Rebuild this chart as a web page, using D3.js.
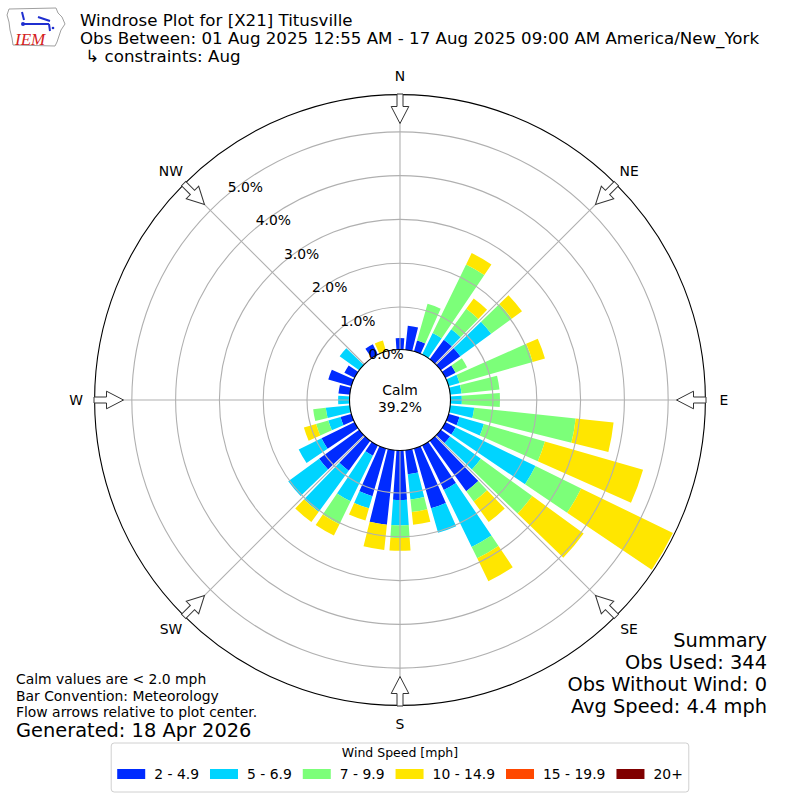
<!DOCTYPE html>
<html>
<head>
<meta charset="utf-8">
<script src="https://cdn.jsdelivr.net/npm/d3@7/dist/d3.min.js"></script>
<style>
  body { margin: 0; background: #fff; }
  svg text { font-family: "DejaVu Sans", sans-serif; fill: #000; }
</style>
</head>
<body>
<svg id="chart" width="800" height="800"></svg>
<script>
// direction bins, degrees the wind blows from
var directions = [0,10,20,30,40,50,60,70,80,90,100,110,120,130,140,150,160,170,
                  180,190,200,210,220,230,240,250,260,270,280,290,300,310,320,330,340,350];

var speedBins = ["2 - 4.9", "5 - 6.9", "7 - 9.9", "10 - 14.9", "15 - 19.9", "20+"];
var binColours = ["#002bff", "#00d4ff", "#7cff79", "#ffe600", "#ff4800", "#800000"];

// percent of all obs, per direction, one list per speed bin
var spd2to5 = [0.29,0.58,0.29,0,0.58,0.58,0.29,0,0,0,0,0.29,0.29,0.29,1.45,1.16,1.45,0.58,
               1.16,1.74,1.16,0.29,0.87,1.16,0.87,0.29,0,0,0.29,0.58,0.29,0,0,0.29,0,0];
var spd5to7 = [0,0,0,0.58,0.29,0.87,0,0.29,0.29,0.29,0.58,0.58,2.03,0.87,0,1.45,0.58,0.58,
               0.58,0,0.29,1.16,1.16,0.87,0.58,0.29,0.58,0.29,0,0,0,0.58,0,0,0,0];
var spd7to10 = [0,0,0.87,1.74,0.58,0.58,0.29,1.74,0.87,0.87,2.33,1.45,1.16,1.45,0.29,0.29,0,0.29,
                0.29,0,0,0.58,0,0,0,0.29,0.29,0,0,0,0,0,0,0,0,0];
var spd10to15 = [0,0,0,0.29,0.29,0.29,0,0.29,0,0,0.87,2.33,2.33,1.45,0.58,0.58,0,0.29,
                 0.29,0.58,0.29,0.29,0.29,0,0,0.29,0,0,0,0,0,0,0,0,0.29,0];
var spd15to20 = [0,0,0,0,0,0,0,0,0,0,0,0,0,0,0,0,0,0,0,0,0,0,0,0,0,0,0,0,0,0,0,0,0,0,0,0];
var spd20up = [0,0,0,0,0,0,0,0,0,0,0,0,0,0,0,0,0,0,0,0,0,0,0,0,0,0,0,0,0,0,0,0,0,0,0,0];

var rTicks = [0, 1, 2, 3, 4, 5];
var compassNames = ["N", "NE", "E", "SE", "S", "SW", "W", "NW"];
var compassAngles = [0, 45, 90, 135, 180, 225, 270, 315];
var calmPct = 39.2;

var titleLines = ["Windrose Plot for [X21] Titusville",
                  "Obs Between: 01 Aug 2025 12:55 AM - 17 Aug 2025 09:00 AM America/New_York",
                  " \u21b3 constraints: Aug"];
var summaryLines = ["Summary", "Obs Used: 344", "Obs Without Wind: 0", "Avg Speed: 4.4 mph"];
var noteLines = ["Calm values are < 2.0 mph", "Bar Convention: Meteorology",
                 "Flow arrows relative to plot center."];
var generated = "Generated: 18 Apr 2026";

var svg = d3.select("#chart");
var cx = 400, cy = 400;
var rad = Math.PI / 180;

// radial scale: 0% sits on the calm circle
var r = d3.scaleLinear().domain([0, 5.85]).range([49.2, 305.4]);
var outerR = r(5.85);

var series = [spd2to5, spd5to7, spd7to10, spd10to15, spd15to20, spd20up];
var table = directions.map(function(d, i) {
  var row = { dir: d };
  speedBins.forEach(function(k, j) { row[k] = series[j][i]; });
  return row;
});
var stacked = d3.stack().keys(speedBins)(table);

var color = d3.scaleOrdinal().domain(speedBins).range(binColours);

var plot = svg.append("g").attr("transform", "translate(" + cx + "," + cy + ")");

var arc = d3.arc()
  .innerRadius(function(d) { return r(d[0]); })
  .outerRadius(function(d) { return r(d[1]); })
  .startAngle(function(d) { return (d.data.dir - 4) * rad; })
  .endAngle(function(d) { return (d.data.dir + 4) * rad; });

plot.selectAll("g.layer")
  .data(stacked)
  .enter()
  .append("g")
    .attr("class", "layer")
    .style("fill", function(d) { return color(d.key); })
  .selectAll("path")
  .data(function(d) { return d.filter(function(s) { return s[1] - s[0] > 0; }); })
  .enter()
  .append("path")
    .attr("d", arc);

// grid on top of the bars
plot.selectAll("circle.ring")
  .data(rTicks.slice(1))
  .enter()
  .append("circle")
    .attr("class", "ring")
    .attr("r", function(d) { return r(d); })
    .style("fill", "none")
    .style("stroke", "#b0b0b0")
    .style("stroke-width", 1.1);

plot.selectAll("line.spoke")
  .data(compassAngles)
  .enter()
  .append("line")
    .attr("x1", 0).attr("y1", 0)
    .attr("x2", function(d) { return outerR * Math.sin(d * rad); })
    .attr("y2", function(d) { return -outerR * Math.cos(d * rad); })
    .style("stroke", "#b0b0b0")
    .style("stroke-width", 1.1);

plot.append("circle")
  .attr("r", outerR)
  .style("fill", "none")
  .style("stroke", "#000")
  .style("stroke-width", 1.1);

// calm circle
plot.append("circle")
  .attr("r", 50.5)
  .style("fill", "#fff")
  .style("stroke", "#000")
  .style("stroke-width", 1.1);

plot.append("text")
  .attr("x", 0).attr("y", -5)
  .attr("text-anchor", "middle")
  .style("font-size", "13.9px")
  .text("Calm");
plot.append("text")
  .attr("x", 0).attr("y", 12)
  .attr("text-anchor", "middle")
  .style("font-size", "13.9px")
  .text(calmPct.toFixed(1) + "%");

// radial tick labels along the 320 deg line
var labAng = -40 * rad;
plot.selectAll("text.rlab")
  .data(rTicks)
  .enter()
  .append("text")
    .attr("class", "rlab")
    .attr("x", function(d) { return r(d) * Math.sin(labAng); })
    .attr("y", function(d) { return -r(d) * Math.cos(labAng) - 3; })
    .style("font-size", "13.9px")
    .text(function(d) { return d.toFixed(1) + "%"; });

// flow arrows at the rim, pointing inward
var arrowPts = [[-3,-306],[3,-306],[3,-293.5],[8.8,-293.5],[0,-276.5],[-8.8,-293.5],[-3,-293.5]];
plot.selectAll("polygon.arrow")
  .data(compassAngles)
  .enter()
  .append("polygon")
    .attr("class", "arrow")
    .attr("points", arrowPts.map(function(p) { return p.join(","); }).join(" "))
    .attr("transform", function(d) { return "rotate(" + d + ")"; })
    .style("fill", "#fff")
    .style("stroke", "#333")
    .style("stroke-width", 1);

plot.selectAll("text.compass")
  .data(compassNames)
  .enter()
  .append("text")
    .attr("class", "compass")
    .attr("x", function(d, i) { return 324 * Math.sin(compassAngles[i] * rad); })
    .attr("y", function(d, i) { return -324 * Math.cos(compassAngles[i] * rad); })
    .attr("text-anchor", "middle")
    .attr("dominant-baseline", "central")
    .style("font-size", "13.9px")
    .text(function(d) { return d; });

// header
svg.selectAll("text.title")
  .data(titleLines)
  .enter()
  .append("text")
    .attr("class", "title")
    .attr("x", 80)
    .attr("y", function(d, i) { return 26 + i * 17.8; })
    .style("font-size", "16.67px")
    .style("white-space", "pre")
    .text(function(d) { return d; });

// IEM logo
var logo = svg.append("g");
logo.append("path")
  .attr("d", "M9,9 L56,8 L58,13 L62,17 L65,24 L61,30 L59,36 L57,42 L55,46 L13,45 L12,38 L10,30 L9,22 L7,15 Z")
  .style("fill", "#fff")
  .style("stroke", "#a0a0a0")
  .style("stroke-width", 1);
logo.append("path")
  .attr("d", "M24,24 L49,24 M38,17 L50,21 M22,12 L24,20 M49,24 L50,31")
  .style("fill", "none")
  .style("stroke", "#1f2fd0")
  .style("stroke-width", 2);
logo.append("circle").attr("cx", 23).attr("cy", 24).attr("r", 2).style("fill", "#1f2fd0");
logo.append("circle").attr("cx", 53).attr("cy", 28).attr("r", 1.3).style("fill", "#1f2fd0");
logo.append("text")
  .attr("x", 15).attr("y", 45)
  .style("font-family", "'Liberation Serif', serif")
  .style("font-style", "italic")
  .style("font-size", "17px")
  .style("fill", "#d42020")
  .text("IEM");

// summary block
svg.selectAll("text.summary")
  .data(summaryLines)
  .enter()
  .append("text")
    .attr("class", "summary")
    .attr("x", 767)
    .attr("y", function(d, i) { return 647 + i * 22; })
    .attr("text-anchor", "end")
    .style("font-size", "19.4px")
    .text(function(d) { return d; });

svg.selectAll("text.note")
  .data(noteLines)
  .enter()
  .append("text")
    .attr("class", "note")
    .attr("x", 16)
    .attr("y", function(d, i) { return 684 + i * 16.5; })
    .style("font-size", "13.9px")
    .text(function(d) { return d; });

svg.append("text")
  .attr("x", 16).attr("y", 737)
  .style("font-size", "19.4px")
  .text(generated);

// legend
var legend = svg.append("g");
var legBox = legend.append("rect")
  .attr("y", 743).attr("height", 49)
  .attr("rx", 3)
  .style("fill", "#fff")
  .style("stroke", "#d0d0d0")
  .style("stroke-width", 1);
legend.append("text")
  .attr("x", 400).attr("y", 757)
  .attr("text-anchor", "middle")
  .style("font-size", "12.5px")
  .text("Wind Speed [mph]");

var patchW = 28, pad = 9, gap = 11;
var items = legend.selectAll("g.item")
  .data(speedBins)
  .enter()
  .append("g")
    .attr("class", "item");
items.append("rect")
  .attr("width", patchW).attr("height", 10)
  .attr("y", 769)
  .style("fill", function(d) { return color(d); });
items.append("text")
  .attr("y", 779)
  .style("font-size", "13.9px")
  .text(function(d) { return d; });

var widths = [];
items.selectAll("text").each(function() { widths.push(this.getComputedTextLength()); });
var total = d3.sum(widths) + speedBins.length * (patchW + pad) + (speedBins.length - 1) * gap;
var x0 = 400 - total / 2;
items.each(function(d, i) {
  var g = d3.select(this);
  g.select("rect").attr("x", x0);
  g.select("text").attr("x", x0 + patchW + pad);
  x0 += patchW + pad + widths[i] + gap;
});
legBox.attr("x", 400 - total / 2 - 6).attr("width", total + 12);
</script>
</body>
</html>
